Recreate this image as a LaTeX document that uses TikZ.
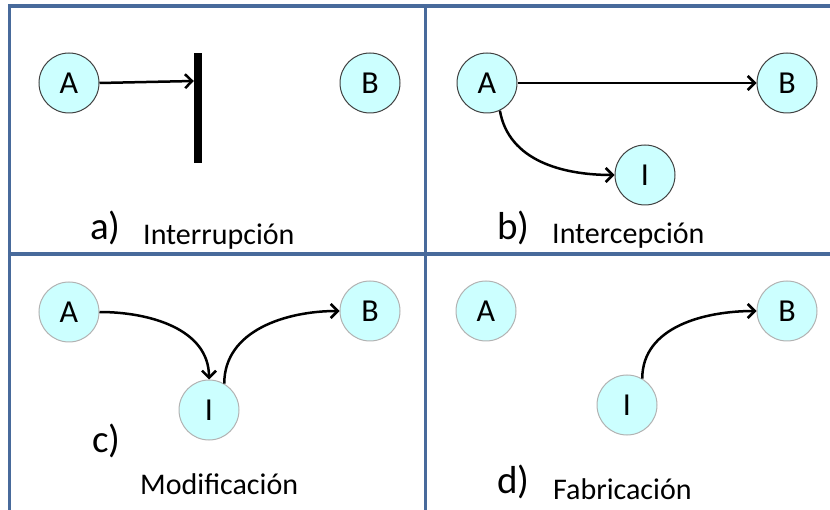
\documentclass[tikz,border=0pt]{standalone}
\usepackage{fontspec}
\setmainfont{Carlito}
\usetikzlibrary{arrows.meta,positioning}
\definecolor{framecol}{RGB}{72,106,155}
\definecolor{nodefill}{RGB}{204,255,255}

\begin{document}
\begin{tikzpicture}[
  x=1pt, y=-1pt,
  party/.style={circle, draw=black!75, line width=1pt, fill=nodefill, minimum size=60pt, inner sep=0pt, font=\fontsize{32}{34}\selectfont},
  partyl/.style={party, draw=black!30},
  frame/.style={draw=framecol, line width=3.5pt},
  arrow/.style={-{Straight Barb[length=7pt, width=14pt]}, line width=2.5pt},
  tag/.style={anchor=base west, inner sep=0pt, font=\fontsize{39}{42}\selectfont},
  caption/.style={anchor=base west, inner sep=0pt, font=\fontsize{30}{32}\selectfont}
]
\useasboundingbox (0,0) rectangle (830,510);

% frame
\draw[frame] (9.5,510) -- (9.5,6) -- (830,6);
\draw[frame] (9.5,254) -- (830,254);
\draw[frame] (425.5,6) -- (425.5,510);

% a) interruption
\node[party] (a1A) at (69,83) {A};
\node[party] (a1B) at (370,83) {B};
\node[fill=black, minimum width=8pt, minimum height=110pt, inner sep=0pt] (a1bar) at (198,108) {};
\draw[arrow] (a1A.east) -- ([yshift=2pt]a1bar.west |- a1A.east);
\node[tag] (a1tag) at (90,240) {a)};
\node[caption] (a1txt) at (143,245) {Interrupción};

% b) interception
\node[party] (b1A) at (487,83) {A};
\node[party] (b1B) at (787,83) {B};
\node[party] (b1I) at (645,175) {I};
\draw[arrow] (b1A) -- (b1B);
\draw[arrow] (b1A.-65) to[out=-80, in=180] (b1I.west);
\node[tag] (b1tag) at (497,240) {b)};
\node[caption] (b1txt) at (552,244) {Intercepción};

% c) modification
\node[partyl] (c1A) at (69,312) {A};
\node[partyl] (c1B) at (370,311) {B};
\node[partyl] (c1I) at (209,410) {I};
\draw[arrow] (c1A.east) to[out=0, in=90] (c1I.north);
\draw[arrow] (c1I.60) to[out=90, in=180] (c1B.west);
\node[tag] (c1tag) at (92,453) {c)};
\node[caption] (c1txt) at (140,494) {Modificación};

% d) fabrication
\node[partyl] (d1A) at (486,311) {A};
\node[partyl] (d1B) at (787,311) {B};
\node[partyl] (d1I) at (627,405) {I};
\draw[arrow] (d1I.60) to[out=90, in=180] (d1B.west);
\node[tag] (d1tag) at (497,493) {d)};
\node[caption] (d1txt) at (553,499) {Fabricación};
\end{tikzpicture}
\end{document}
